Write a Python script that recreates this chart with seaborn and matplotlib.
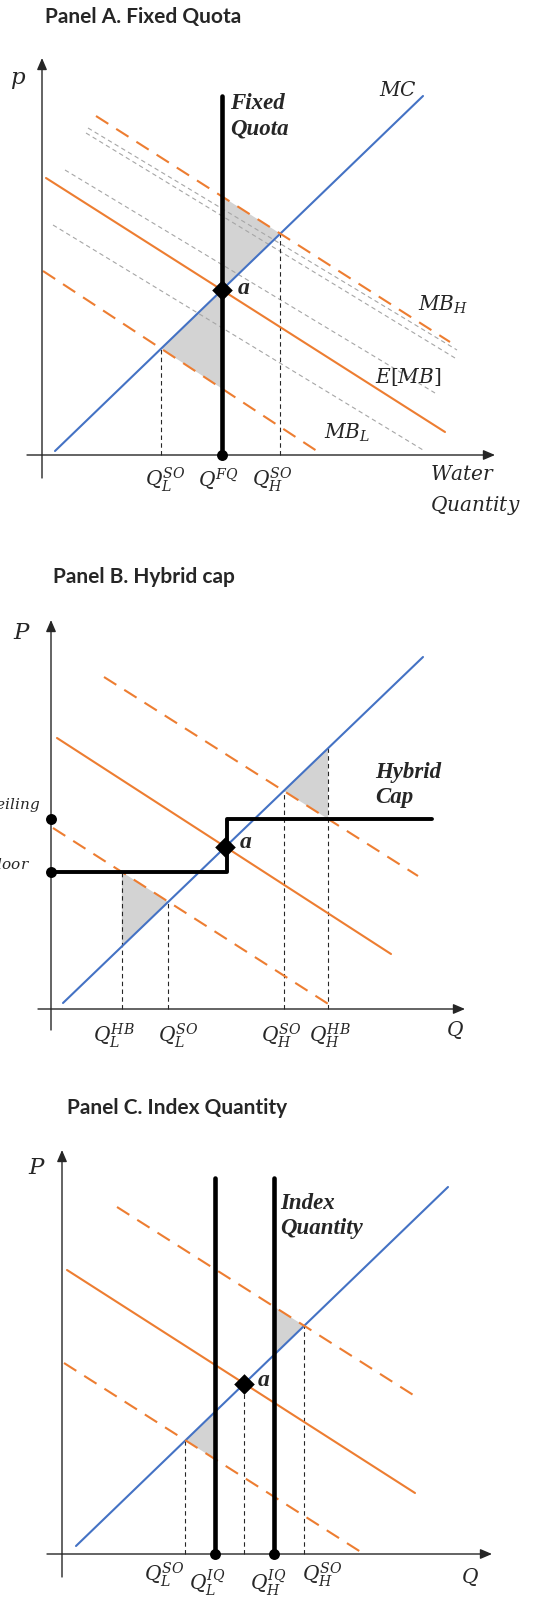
import matplotlib
matplotlib.use("Agg")
import matplotlib.pyplot as plt
import seaborn as sns

# ---------------- data (schematic units: each panel's origin is where its axes cross) ----
panel_titles = ["Panel A. Fixed Quota", "Panel B. Hybrid cap", "Panel C. Index Quantity"]

# Panel A: Fixed quota
A_MC_q, A_MC_p = [13, 381], [4, 359]
A_EMB_q, A_EMB_p = [4, 403], [277, 23]
A_MBH_q, A_MBH_p = [54, 408], [339, 113]
A_MBL_q, A_MBL_p = [1, 281], [184, 0]
A_gray_q = [[46, 415], [44, 413], [23, 393], [11, 381]]
A_gray_p = [[327, 105], [322, 97], [285, 62], [230, 5]]
A_quota_top = 359
A_ticks = ["$Q_L^{SO}$", "$Q^{FQ}$", "$Q_H^{SO}$"]

# Panel B: Hybrid cap
B_MC_q, B_MC_p = [12, 372], [6, 352]
B_EMB_q, B_EMB_p = [6, 340], [271, 55]
B_MBH_q, B_MBH_p = [53, 367], [332, 133]
B_MBL_q, B_MBL_p = [2, 282], [181, 2]
B_floor, B_ceiling = 137, 190
B_cap_end = 381
B_ticks = ["$Q_L^{HB}$", "$Q_L^{SO}$", "$Q_H^{SO}$", "$Q_H^{HB}$"]

# Panel C: Index quantity
C_MC_q, C_MC_p = [14, 386], [8, 367]
C_EMB_q, C_EMB_p = [5, 353], [284, 61]
C_MBH_q, C_MBH_p = [55, 356], [347, 156]
C_MBL_q, C_MBL_p = [2, 302], [191, 0]
C_IQ_q = [153, 212]
C_IQ_top = 376
C_ticks = ["$Q_L^{SO}$", "$Q_L^{IQ}$", "$Q_H^{IQ}$", "$Q_H^{SO}$"]

# ---------------- style ----------------
sns.set_style("white")
plt.rcParams["font.family"] = ["DejaVu Serif"]
plt.rcParams["mathtext.fontset"] = "dejavuserif"

BLUE = "#4472C4"
ORANGE = "#ED7D31"
SHADE = "#D3D3D3"
AXC = "#262626"
W, H = 550, 1600

fig = plt.figure(figsize=(5.5, 16), dpi=100)


def at(q, p, x):
    return p[0] + (p[1] - p[0]) * (x - q[0]) / (q[1] - q[0])


def cross(q1, p1, q2, p2):
    s1 = (p1[1] - p1[0]) / (q1[1] - q1[0])
    s2 = (p2[1] - p2[0]) / (q2[1] - q2[0])
    b1 = p1[0] - s1 * q1[0]
    b2 = p2[0] - s2 * q2[0]
    x = (b2 - b1) / (s1 - s2)
    return x, b1 + s1 * x


def panel(top, bottom, ox, oy):
    ax = fig.add_axes([0, 1 - bottom / H, 1, (bottom - top) / H])
    ax.set_xlim(-ox, W - ox)
    ax.set_ylim(oy - bottom, oy - top)
    ax.axis("off")
    return ax


def line(ax, q, p, color, lw, ls="-", z=2):
    sns.lineplot(x=q, y=p, ax=ax, color=color, lw=lw, linestyle=ls,
                 estimator=None, sort=False, legend=False, zorder=z)


def axes_arrows(ax, ybot, ytop, xleft, xright):
    kw = dict(arrowstyle="-|>,head_length=0.7,head_width=0.3", color=AXC, lw=1.0,
              shrinkA=0, shrinkB=0, mutation_scale=10)
    ax.annotate("", xy=(0, ytop), xytext=(0, ybot), arrowprops=kw)
    ax.annotate("", xy=(xright, 0), xytext=(xleft, 0), arrowprops=kw)


def vdash(ax, x, ytop):
    line(ax, [x, x], [0, ytop], AXC, 0.8, (0, (4, 3)), z=1.5)


def dots(ax, xs, ys, marker="o", s=62):
    sns.scatterplot(x=xs, y=ys, ax=ax, color="black", marker=marker, s=s,
                    linewidth=0, zorder=6, legend=False)


DASH = (0, (7, 4.5))
LBL = 14.5
BI = dict(family="Liberation Serif", fontstyle="italic", fontweight="bold")
TITLE = dict(family="Lato", fontweight="bold", fontsize=15)

# ================= Panel A =================
ox, oy = 42, 455
ax = panel(0, 530, ox, oy)
ax.text(45 - ox, oy - 17, panel_titles[0], va="center", ha="left", **TITLE)
axes_arrows(ax, -23, 397, -15, 453)
for gq, gp in zip(A_gray_q, A_gray_p):
    line(ax, gq, gp, "#A6A6A6", 0.8, (0, (4, 3)), z=1.2)
aq, ap = cross(A_MC_q, A_MC_p, A_EMB_q, A_EMB_p)
qL, pL = cross(A_MC_q, A_MC_p, A_MBL_q, A_MBL_p)
qH, pH = cross(A_MC_q, A_MC_p, A_MBH_q, A_MBH_p)
ax.fill([aq, qH, aq], [at(A_MBH_q, A_MBH_p, aq), pH, at(A_MC_q, A_MC_p, aq)],
        color=SHADE, lw=0, zorder=1)
ax.fill([qL, aq, aq], [pL, at(A_MC_q, A_MC_p, aq), at(A_MBL_q, A_MBL_p, aq)],
        color=SHADE, lw=0, zorder=1)
vdash(ax, qL, pL)
vdash(ax, qH, pH)
line(ax, A_MC_q, A_MC_p, BLUE, 1.5)
line(ax, A_EMB_q, A_EMB_p, ORANGE, 1.5)
line(ax, A_MBH_q, A_MBH_p, ORANGE, 1.5, DASH)
line(ax, A_MBL_q, A_MBL_p, ORANGE, 1.5, DASH)
line(ax, [aq, aq], [0, A_quota_top], "black", 3.3, z=4)
dots(ax, [aq], [0])
dots(ax, [aq], [ap], marker="D", s=110)
ax.text(-24, 375, "$p$", fontsize=LBL + 2, ha="center", va="center")
ax.text(356, 365, "$MC$", fontsize=LBL, ha="center", va="center")
ax.text(188, 339, "Fixed\nQuota", fontsize=16.5, ha="left", va="center", linespacing=1.3, **BI)
ax.text(401, 150, "$MB_H$", fontsize=LBL, ha="center", va="center")
ax.text(366, 78, "$E[MB]$", fontsize=LBL, ha="center", va="center")
ax.text(305, 22, "$MB_L$", fontsize=LBL, ha="center", va="center")
ax.text(196, 166, "a", fontsize=17, ha="left", va="center", **BI)
for x, t, dx in zip([qL, aq, qH], A_ticks, [4, -3, -8]):
    ax.text(x + dx, -25, t, fontsize=LBL, ha="center", va="center")
ax.text(388, -36, "$Water$\n$Quantity$", fontsize=LBL, ha="left", va="center", linespacing=1.55)

# ================= Panel B =================
ox, oy = 51, 1009
ax = panel(530, 1070, ox, oy)
ax.text(53 - ox, oy - 577, panel_titles[1], va="center", ha="left", **TITLE)
axes_arrows(ax, -21, 389, -13, 414)
aq, ap = cross(B_MC_q, B_MC_p, B_EMB_q, B_EMB_p)
qLs, pLs = cross(B_MC_q, B_MC_p, B_MBL_q, B_MBL_p)
qHs, pHs = cross(B_MC_q, B_MC_p, B_MBH_q, B_MBH_p)
qLh = B_MBL_q[0] + (B_floor - B_MBL_p[0]) * (B_MBL_q[1] - B_MBL_q[0]) / (B_MBL_p[1] - B_MBL_p[0])
qHh = B_MBH_q[0] + (B_ceiling - B_MBH_p[0]) * (B_MBH_q[1] - B_MBH_q[0]) / (B_MBH_p[1] - B_MBH_p[0])
ax.fill([qHs, qHh, qHh], [pHs, at(B_MC_q, B_MC_p, qHh), B_ceiling], color=SHADE, lw=0, zorder=1)
ax.fill([qLh, qLs, qLh], [B_floor, pLs, at(B_MC_q, B_MC_p, qLh)], color=SHADE, lw=0, zorder=1)
vdash(ax, qLh, B_floor)
vdash(ax, qLs, pLs)
vdash(ax, qHs, pHs)
vdash(ax, qHh, at(B_MC_q, B_MC_p, qHh))
line(ax, B_MC_q, B_MC_p, BLUE, 1.5)
line(ax, B_EMB_q, B_EMB_p, ORANGE, 1.5)
line(ax, B_MBH_q, B_MBH_p, ORANGE, 1.5, DASH)
line(ax, B_MBL_q, B_MBL_p, ORANGE, 1.5, DASH)
line(ax, [0, aq + 1.5, aq + 1.5, B_cap_end], [B_floor, B_floor, B_ceiling, B_ceiling], "black", 2.8, z=4)
dots(ax, [0, 0], [B_ceiling, B_floor])
dots(ax, [aq], [ap], marker="D", s=110)
ax.text(-29, 376, "$P$", fontsize=LBL + 2, ha="center", va="center")
ax.text(-11, 204, "$Ceiling$", fontsize=11, ha="right", va="center")
ax.text(-21, 144, "$Floor$", fontsize=11, ha="right", va="center")
ax.text(324, 224, "Hybrid\nCap", fontsize=16.5, ha="left", va="center", linespacing=1.3, **BI)
ax.text(189, 166, "a", fontsize=17, ha="left", va="center", **BI)
for x, t, dx in zip([qLh, qLs, qHs, qHh], B_ticks, [-8, 10, -2, 2]):
    ax.text(x + dx, -27, t, fontsize=LBL, ha="center", va="center")
ax.text(404, -21, "$Q$", fontsize=LBL, ha="center", va="center")

# ================= Panel C =================
ox, oy = 62, 1554
ax = panel(1070, 1600, ox, oy)
ax.text(67 - ox, oy - 1108, panel_titles[2], va="center", ha="left", **TITLE)
axes_arrows(ax, -23, 404, -15, 430)
aq, ap = cross(C_MC_q, C_MC_p, C_EMB_q, C_EMB_p)
qL, pL = cross(C_MC_q, C_MC_p, C_MBL_q, C_MBL_p)
qH, pH = cross(C_MC_q, C_MC_p, C_MBH_q, C_MBH_p)
iL, iH = C_IQ_q
ax.fill([iH, qH, iH], [at(C_MBH_q, C_MBH_p, iH), pH, at(C_MC_q, C_MC_p, iH)], color=SHADE, lw=0, zorder=1)
ax.fill([qL, iL, iL], [pL, at(C_MC_q, C_MC_p, iL), at(C_MBL_q, C_MBL_p, iL)], color=SHADE, lw=0, zorder=1)
vdash(ax, qL, pL)
vdash(ax, aq, ap)
vdash(ax, qH, pH)
line(ax, C_MC_q, C_MC_p, BLUE, 1.5)
line(ax, C_EMB_q, C_EMB_p, ORANGE, 1.5)
line(ax, C_MBH_q, C_MBH_p, ORANGE, 1.5, DASH)
line(ax, C_MBL_q, C_MBL_p, ORANGE, 1.5, DASH)
for x in C_IQ_q:
    line(ax, [x, x], [0, C_IQ_top], "black", 3.3, z=4)
dots(ax, C_IQ_q, [0, 0])
dots(ax, [aq], [ap], marker="D", s=110)
ax.text(-25, 386, "$P$", fontsize=LBL + 2, ha="center", va="center")
ax.text(218, 338, "Index\nQuantity", fontsize=16.5, ha="left", va="center", linespacing=1.3, **BI)
ax.text(196, 173, "a", fontsize=17, ha="left", va="center", **BI)
for x, y, t, dx in zip([qL, iL, iH, qH], [-21, -29, -29, -21], C_ticks, [-21, -8, -6, 18]):
    ax.text(x + dx, y, t, fontsize=LBL, ha="center", va="center")
ax.text(408, -23, "$Q$", fontsize=LBL, ha="center", va="center")

fig.savefig("out.png", dpi=100)
